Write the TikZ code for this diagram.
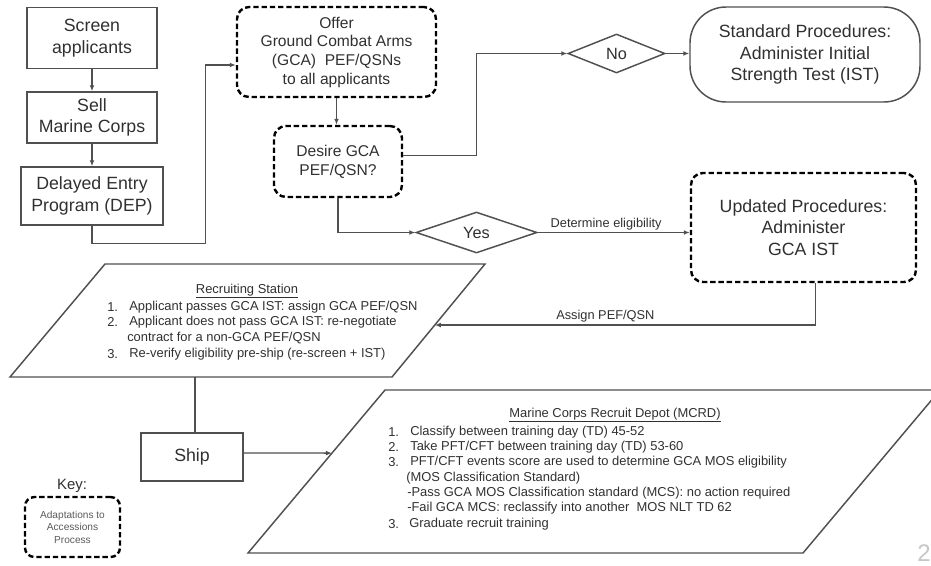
\documentclass[tikz,border=0pt]{standalone}
\usepackage{fontspec}
\setmainfont{Liberation Sans}
\usetikzlibrary{arrows.meta,shapes.geometric,calc}
\definecolor{ln}{HTML}{505050}
\definecolor{txt}{HTML}{303030}
\tikzset{
  solidbox/.style={draw=ln, line width=1.1pt, rectangle, inner sep=2pt, align=center, text=txt},
  dashbox/.style={draw=black, line width=1.8pt, dash pattern=on 4pt off 2.2pt, rounded corners=9pt, rectangle, align=center, text=txt, inner sep=2pt},
  dia/.style={draw=ln, line width=1.1pt, diamond, inner sep=0pt, text=txt, font=\fontsize{12.2}{14}\selectfont},
  conn/.style={draw=ln, line width=1pt, -{Latex[length=4.5pt,width=3.6pt]}},
  plainconn/.style={draw=ln, line width=1pt},
  shapeline/.style={draw=ln, line width=1.1pt, line join=miter},
  lst/.style={anchor=west, inner sep=0pt, text=txt, font=\fontsize{9.7}{11.6}\selectfont},
  ttl/.style={anchor=center, inner sep=0pt, text=txt, font=\fontsize{9.7}{11.6}\selectfont},
  lbl/.style={text=txt, inner sep=1.5pt, font=\fontsize{9.6}{11}\selectfont},
  bigtxt/.style={font=\fontsize{13.3}{16.3}\selectfont},
  midtxt/.style={font=\fontsize{11.7}{14}\selectfont},
}
\begin{document}
\begin{tikzpicture}[x=0.75pt,y=-0.75pt]
\useasboundingbox (0,0) rectangle (931,565);
\clip (0,0) rectangle (931,565);

% left column
\node[solidbox, bigtxt, minimum width=97.5pt, minimum height=45.75pt] (scr) at (92,38) {Screen\\applicants};
\node[solidbox, bigtxt, minimum width=97.5pt, minimum height=38.25pt] (sell) at (92,117.5) {Sell\\Marine Corps};
\node[solidbox, bigtxt, minimum width=106.5pt, minimum height=43.5pt] (dep) at (92,196) {Delayed Entry\\Program (DEP)};

% offer / desire
\node[dashbox, midtxt, minimum width=149.25pt, minimum height=67.5pt] (offer) at (336.5,52) {Offer\\Ground Combat Arms\\(GCA)~~PEF/QSNs\\to all applicants};
\node[dashbox, midtxt, minimum width=96pt, minimum height=53.25pt] (desire) at (338,161.5) {Desire GCA\\PEF/QSN?};

% decisions
\node[dia, minimum width=72.75pt, minimum height=29.25pt] (no) at (616.5,53.5) {No};
\node[dia, minimum width=90.75pt, minimum height=30.75pt] (yes) at (476.5,232.5) {Yes};

% procedures
\node[solidbox, bigtxt, rounded corners=27pt, minimum width=172.5pt, minimum height=71.25pt] (std) at (805,54.5) {Standard Procedures:\\Administer Initial\\Strength Test (IST)};
\node[dashbox, bigtxt, minimum width=168.75pt, minimum height=81.75pt] (upd) at (803.5,227.5) {Updated Procedures:\\Administer\\GCA IST};

% recruiting station parallelogram
\coordinate (rsTL) at (105,264);
\coordinate (rsTR) at (485,264);
\coordinate (rsBR) at (392,377);
\coordinate (rsBL) at (10,377);
\draw[shapeline] (rsTL) -- (rsTR) -- (rsBR) -- (rsBL) -- cycle;
\coordinate (rsin) at ($(rsTR)!0.54!(rsBR)$);
\coordinate (rsbot) at (195,377);
\node[ttl] (rst) at (247,291) {\underline{Recruiting Station}};
\node[lst] (rs1n) at (107,307) {1.};
\node[lst] (rs1) at (129,307) {Applicant passes GCA IST: assign GCA PEF/QSN};
\node[lst] (rs2n) at (107,322) {2.};
\node[lst] (rs2) at (129,322) {Applicant does not pass GCA IST: re-negotiate};
\node[lst] (rs2b) at (127,338) {contract for a non-GCA PEF/QSN};
\node[lst] (rs3n) at (107,354) {3.};
\node[lst] (rs3) at (129,354) {Re-verify eligibility pre-ship (re-screen + IST)};

% ship
\node[solidbox, bigtxt, minimum width=76.5pt, minimum height=36pt] (ship) at (192,457) {Ship};

% MCRD parallelogram
\coordinate (mTL) at (385,390);
\coordinate (mTR) at (940,390);
\coordinate (mBR) at (803,553);
\coordinate (mBL) at (248,553);
\draw[shapeline] (mTL) -- (mTR) -- (mBR) -- (mBL) -- cycle;
\coordinate (mcrdin) at ($(mTL)!0.387!(mBL)$);
\node[ttl] (mt) at (615,415) {\underline{Marine Corps Recruit Depot (MCRD)}};
\node[lst] (m1n) at (388,432) {1.};
\node[lst] (m1) at (410,432) {Classify between training day (TD) 45-52};
\node[lst] (m2n) at (388,447) {2.};
\node[lst] (m2) at (410,447) {Take PFT/CFT between training day (TD) 53-60};
\node[lst] (m3n) at (388,462) {3.};
\node[lst] (m3) at (410,462) {PFT/CFT events score are used to determine GCA MOS eligibility};
\node[lst] (m3b) at (406,478) {(MOS Classification Standard)};
\node[lst] (m3c) at (407,493) {-Pass GCA MOS Classification standard (MCS): no action required};
\node[lst] (m3d) at (407,508) {-Fail GCA MCS: reclassify into another~ MOS NLT TD 62};
\node[lst] (m4n) at (388,524) {3.};
\node[lst] (m4) at (409,524) {Graduate recruit training};

% key
\node[text=txt, inner sep=0pt, font=\fontsize{11.2}{13}\selectfont] (keyl) at (72,486) {Key:};
\node[dashbox, rounded corners=7pt, minimum width=71.25pt, minimum height=45pt, text=txt!80, font=\fontsize{7.6}{9.4}\selectfont] (key) at (72.5,527) {Adaptations to\\Accessions\\Process};

% page number
\node[anchor=west, inner sep=0pt, text=gray!45, font=\fontsize{18}{20}\selectfont] (pg) at (917,553) {2};

% connectors
\coordinate (offin) at ($(offer.west)+(0,13)$);
\draw[conn] (scr) -- (sell);
\draw[conn] (sell) -- (dep);
\draw[conn] (dep.south) -- ++(0,18) -| ($(offin)+(-30,0)$) -- (offin);
\draw[conn] (offer.south) -- (offer.south |- desire.north);
\draw[conn] ($(desire.east)+(0,-6)$) -- ++(73,0) |- (no.west);
\draw[conn] (no.east) -- (no.east -| std.west);
\draw[conn] (desire.south) |- (yes.west);
\draw[conn] (yes.east) -- (yes.east -| upd.west) node[lbl, pos=0.45, above] (detl) {Determine eligibility};
\draw[conn] ($(upd.south)+(12,0)$) |- (rsin) node[lbl, pos=0.776, above] (asl) {Assign PEF/QSN};
\draw[plainconn] (rsbot) -- (rsbot |- ship.north);
\draw[conn] ($(ship.east)+(0,-4)$) -- (mcrdin);
\end{tikzpicture}
\end{document}
